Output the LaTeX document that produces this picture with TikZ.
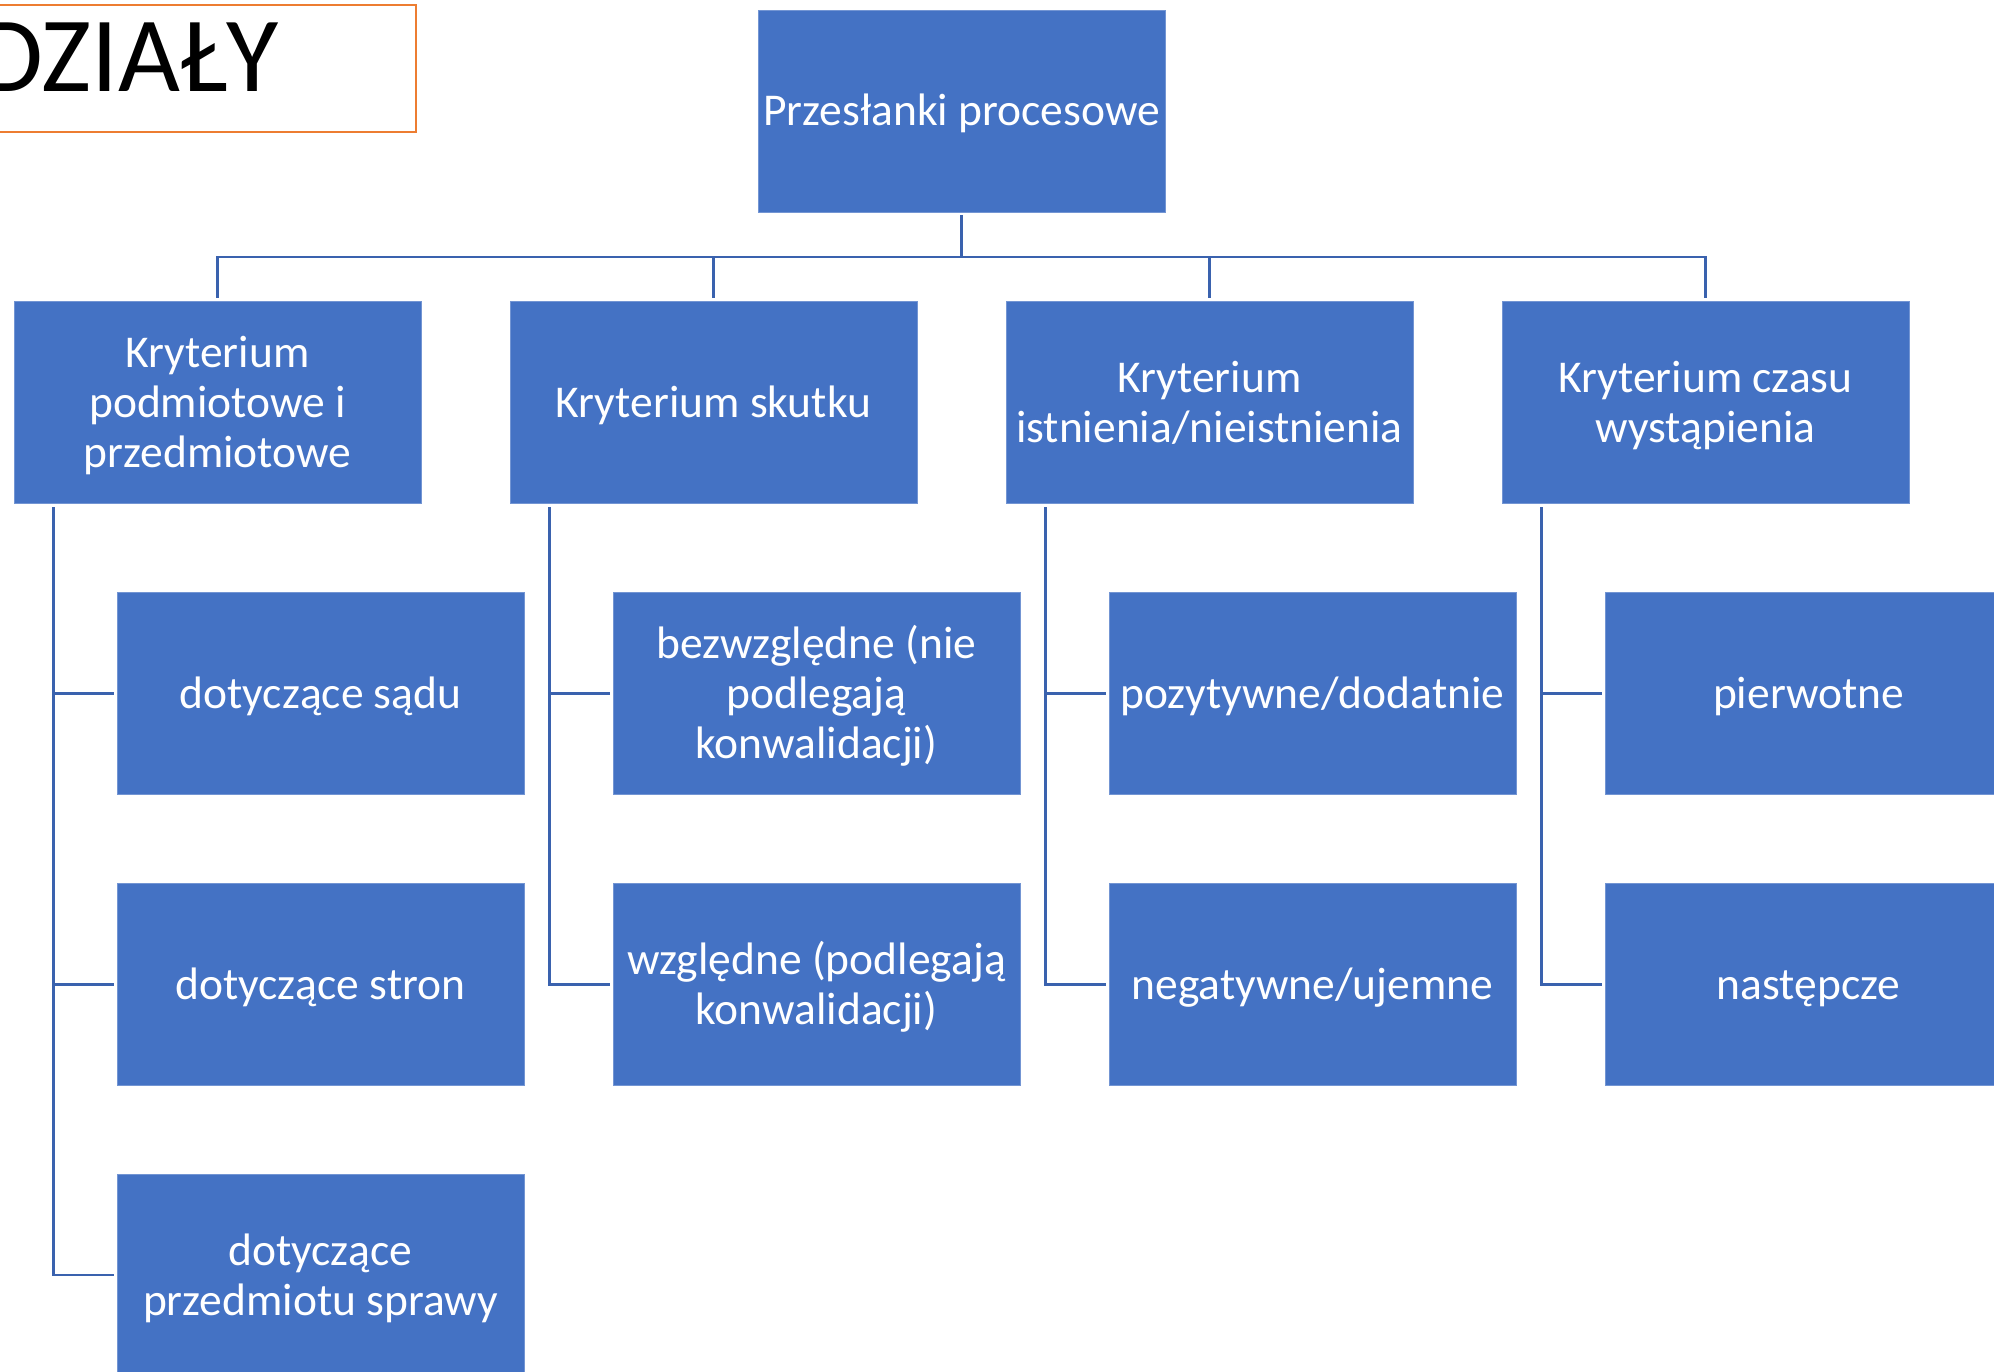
\documentclass[tikz,border=0pt]{standalone}
\usepackage{fontspec}
\setmainfont{Carlito}
\definecolor{boxblue}{HTML}{4472C4}
\definecolor{linkblue}{HTML}{3A62AE}
\definecolor{titleorange}{HTML}{ED7D31}
\newcommand\bt[1]{\raisebox{-5pt}[\height][\depth]{\begin{tabular}{@{}c@{}}#1\end{tabular}}}
\begin{document}
\begin{tikzpicture}[x=1pt,y=-1pt,
  box/.style={fill=boxblue, draw=boxblue!75!white, line width=0.6pt,
    minimum width=407pt, minimum height=202pt, inner sep=0pt, outer sep=0pt,
    text=white, font=\fontsize{45.5}{50}\selectfont},
  link/.style={draw=linkblue, line width=2.5pt}]
\useasboundingbox (0,0) rectangle (1994,1372);
% title
\draw[titleorange, line width=2pt] (-10,5) rectangle (416,132);
\node[anchor=base east, inner sep=0pt, font=\fontsize{107}{110}\selectfont] (title) at (279,92) {DZIAŁY};
% root
\node[box] (root) at (961.5,111) {\bt{Przesłanki procesowe}};
% level 2
\node[box] (k1) at (217.5,402) {\bt{Kryterium\\podmiotowe i\\przedmiotowe}};
\node[box] (k2) at (713.5,402) {\bt{Kryterium skutku}};
\node[box] (k3) at (1209.5,402) {\bt{Kryterium\\istnienia/nieistnienia}};
\node[box] (k4) at (1705.5,402) {\bt{Kryterium czasu\\wystąpienia}};
% level 3
\node[box] (a1) at (320.5,693.5) {\bt{dotyczące sądu}};
\node[box] (a2) at (320.5,984.5) {\bt{dotyczące stron}};
\node[box] (a3) at (320.5,1275) {\bt{dotyczące\\przedmiotu sprawy}};
\node[box] (b1) at (816.5,693.5) {\bt{bezwzględne (nie\\podlegają\\konwalidacji)}};
\node[box] (b2) at (816.5,984.5) {\bt{względne (podlegają\\konwalidacji)}};
\node[box] (c1) at (1312.5,693.5) {\bt{pozytywne/dodatnie}};
\node[box] (c2) at (1312.5,984.5) {\bt{negatywne/ujemne}};
\node[box] (d1) at (1808.5,693.5) {\bt{pierwotne}};
\node[box] (d2) at (1808.5,984.5) {\bt{następcze}};
% connectors
\coordinate (bus) at (961.5,257);
\draw[link, line width=3pt] ([yshift=-3pt]root.south) -- (bus);
\draw[link] ([yshift=3pt]k1.north) -- (k1.north |- bus) -- (k4.north |- bus) -- ([yshift=3pt]k4.north);
\draw[link] ([yshift=3pt]k2.north) -- (k2.north |- bus);
\draw[link] ([yshift=3pt]k3.north) -- (k3.north |- bus);
\foreach \p/\c in {k1/a1,k1/a2,k1/a3,k2/b1,k2/b2,k3/c1,k3/c2,k4/d1,k4/d2}{
  \draw[link] ([xshift=39.5pt,yshift=-4pt]\p.south west) |- ([xshift=-3.5pt]\c.west);
}
\end{tikzpicture}
\end{document}
